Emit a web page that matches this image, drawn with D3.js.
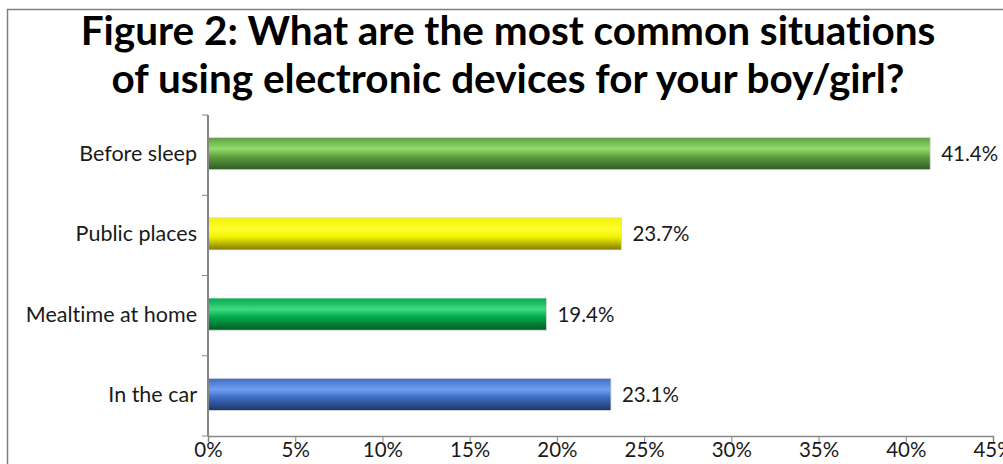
<!DOCTYPE html>
<html>
<head>
<meta charset="utf-8">
<script src="https://cdn.jsdelivr.net/npm/d3@7"></script>
<style>
  body { margin: 0; background: #fff; }
  svg { display: block; }
  text { font-variant-ligatures: none; font-feature-settings: "liga" 0, "clig" 0; }
</style>
</head>
<body>
<div id="chart"></div>
<script>
// Chart data
const categories = ["Before sleep", "Public places", "Mealtime at home", "In the car"];
const values = [41.4, 23.7, 19.4, 23.1];
const barColours = [
  ["#5f9e3f", "#93dc6d", "#2f5a22"],
  ["#f2f200", "#ffff30", "#7f7a00"],
  ["#00a94a", "#3fd982", "#045a26"],
  ["#3d6cc4", "#709ff0", "#1d3567"]
];
const xTicks = [0, 5, 10, 15, 20, 25, 30, 35, 40, 45];
const titleLines = ["Figure 2: What are the most common situations",
                    "of using electronic devices for your boy/girl?"];

const width = 1003, height = 464;
const margin = { left: 208, right: 10, top: 115, bottom: 28 };
const labelFont = "Lato, sans-serif";

const svg = d3.select("#chart").append("svg")
  .attr("width", width)
  .attr("height", height);

// Frame
svg.append("rect")
  .attr("x", 7.5).attr("y", 9.5)
  .attr("width", width + 20).attr("height", height + 20)
  .attr("fill", "#fff")
  .attr("stroke", "#7f7f7f")
  .attr("stroke-width", 1.5);

// Gradients for bars
const defs = svg.append("defs");
barColours.forEach((c, i) => {
  let g = defs.append("linearGradient")
    .attr("id", `grad${i}`)
    .attr("x1", 0).attr("y1", 0).attr("x2", 0).attr("y2", 1);
  g.append("stop").attr("offset", "0%").attr("stop-color", c[0]);
  g.append("stop").attr("offset", "35%").attr("stop-color", c[1]);
  g.append("stop").attr("offset", "60%").attr("stop-color", c[0]);
  g.append("stop").attr("offset", "100%").attr("stop-color", c[2]);
});

// Title
svg.append("g")
  .selectAll("text")
  .data(titleLines)
  .enter()
  .append("text")
  .attr("x", 508)
  .attr("y", (d, i) => 45 + i * 48)
  .attr("text-anchor", "middle")
  .style("font-family", "Lato, 'Open Sans', sans-serif")
  .style("font-weight", "bold")
  .style("font-size", "40.5px")
  .attr("fill", "#000")
  .text(d => d);

const plotBottom = 436;
const x = d3.scaleLinear()
  .domain([0, 45])
  .range([margin.left, 993]);

const y = d3.scaleBand()
  .domain(categories)
  .range([margin.top, plotBottom])
  .paddingInner(0.6)
  .paddingOuter(0.3);

// Bars
svg.append("g")
  .selectAll("rect")
  .data(categories)
  .enter()
  .append("rect")
  .attr("x", x(0))
  .attr("y", d => y(d) - 1.5)
  .attr("width", (d, i) => x(values[i]) - x(0))
  .attr("height", y.bandwidth())
  .attr("fill", (d, i) => `url(#grad${i})`)
  .attr("stroke", "#d9d9d9")
  .attr("stroke-width", 0.8);

// Value labels
svg.append("g")
  .selectAll("text")
  .data(categories)
  .enter()
  .append("text")
  .attr("x", (d, i) => x(values[i]) + 11)
  .attr("y", d => y(d) + y.bandwidth() / 2 + 6)
  .style("font-family", labelFont)
  .style("font-size", "20.5px")
  .attr("fill", "#1a1a1a")
  .text((d, i) => `${values[i].toFixed(1)}%`);

// Y axis line and ticks at band boundaries
const axisColour = "#868686";
svg.append("line")
  .attr("x1", x(0)).attr("x2", x(0))
  .attr("y1", margin.top).attr("y2", plotBottom)
  .attr("stroke", axisColour).attr("stroke-width", 2);

const step = (plotBottom - margin.top) / categories.length;
svg.append("g")
  .selectAll("line")
  .data(d3.range(categories.length + 1))
  .enter()
  .append("line")
  .attr("x1", x(0) - 6).attr("x2", x(0))
  .attr("y1", d => margin.top + d * step)
  .attr("y2", d => margin.top + d * step)
  .attr("stroke", axisColour).attr("stroke-width", 1);

// Category labels
svg.append("g")
  .selectAll("text")
  .data(categories)
  .enter()
  .append("text")
  .attr("x", x(0) - 11)
  .attr("y", d => y(d) + y.bandwidth() / 2 + 6)
  .attr("text-anchor", "end")
  .style("font-family", labelFont)
  .style("font-size", "21.5px")
  .attr("fill", "#1a1a1a")
  .text(d => d);

// X axis
const xAxis = svg.append("g")
  .attr("transform", `translate(0, ${plotBottom})`)
  .call(d3.axisBottom(x).tickValues(xTicks).tickSize(6).tickFormat(d => `${d}%`));
xAxis.select(".domain").attr("stroke", axisColour).attr("stroke-width", 1.5);
xAxis.selectAll(".tick line").attr("stroke", axisColour);
xAxis.selectAll(".tick text")
  .attr("dy", "0.62em")
  .attr("y", 8)
  .style("font-family", labelFont)
  .style("font-size", "20.5px")
  .attr("fill", "#1a1a1a");
</script>
</body>
</html>
